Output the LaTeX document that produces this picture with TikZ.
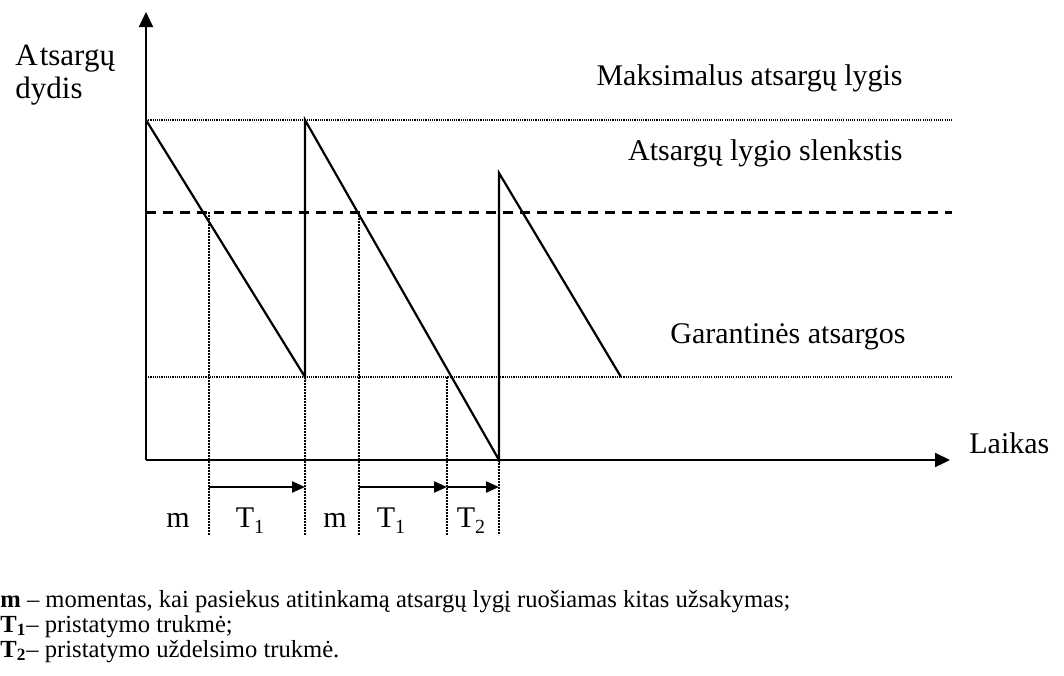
\documentclass[tikz,border=0pt]{standalone}
\usepackage{fontspec}
\setmainfont{Liberation Serif}
\usetikzlibrary{arrows.meta}
\newcommand{\lowsub}[1]{\raisebox{-0.45ex}{\fontsize{10}{10}\selectfont #1}}
\tikzset{
  axis/.style={line width=1.1pt,-{Triangle[length=7.5pt,width=7pt]}},
  saw/.style={line width=1.1pt,line join=miter},
  dotline/.style={line width=0.55pt,dash pattern=on 0.55pt off 0.55pt},
  vdot/.style={line width=0.8pt,dash pattern=on 0.8pt off 0.7pt},
  thresh/.style={line width=1.5pt,dash pattern=on 5pt off 3.5pt},
  span/.style={line width=1.1pt,-{Triangle[length=6.5pt,width=5.5pt]}},
  lbl/.style={font=\fontsize{15}{17}\selectfont,inner sep=0pt},
  leg/.style={font=\fontsize{12.3}{14}\selectfont,inner sep=0pt,anchor=base west},
}
\begin{document}
\begin{tikzpicture}[x=0.5pt,y=-0.5pt]
\useasboundingbox (0,0) rectangle (1064,675);
% coordinates
\coordinate (O) at (146,460);
\coordinate (Ytop) at (146,12);
\coordinate (Xend) at (950,460);
\coordinate (maxL) at (146,120);
\coordinate (maxR) at (952,120);
\coordinate (thL) at (146,212);
\coordinate (thR) at (952,212);
\coordinate (ssL) at (146,377);
\coordinate (ssR) at (952,377);
\coordinate (p1) at (146,120);
\coordinate (b1) at (305,377);
\coordinate (p2) at (305,120);
\coordinate (b2) at (499,460);
\coordinate (p3) at (499,173);
\coordinate (e3) at (621,377);
% vertical dotted markers
\coordinate (v1t) at (209,212); \coordinate (v1b) at (209,535);
\coordinate (v2t) at (305,377); \coordinate (v2b) at (305,535);
\coordinate (v3t) at (359,212); \coordinate (v3b) at (359,535);
\coordinate (v4t) at (447,377); \coordinate (v4b) at (447,535);
\coordinate (v5t) at (499,460); \coordinate (v5b) at (499,535);
% level lines
\draw[dotline] (maxL) -- (maxR);
\draw[dotline] (ssL) -- (ssR);
\draw[thresh] (thL) -- (thR);
% verticals
\draw[vdot] (v1t) -- (v1b);
\draw[vdot] (v2t) -- (v2b);
\draw[vdot] (v3t) -- (v3b);
\draw[vdot] (v4t) -- (v4b);
\draw[vdot] (v5t) -- (v5b);
% sawtooth
\draw[saw] (p1) -- (b1) -- (p2) -- (b2) -- (p3) -- (e3);
% axes
\draw[axis] (O) -- (Ytop);
\draw[axis] (O) -- (Xend);
% span arrows
\coordinate (a1) at (209,487); \coordinate (a2) at (305,487);
\coordinate (a3) at (359,487); \coordinate (a4) at (447,487);
\coordinate (a5) at (499,487);
\draw[span] (a1) -- (a2);
\draw[span] (a3) -- (a4);
\draw[span] (a4) -- (a5);
% labels
\node[lbl,anchor=base west,font=\fontsize{15.5}{17}\selectfont] (yl1) at (15,65) {A\kern1pt tsargų};
\node[lbl,anchor=base west,font=\fontsize{15.5}{17}\selectfont] (yl2) at (15,98) {dydis};
\node[lbl,anchor=base east] (tmax) at (903,85) {Maksimalus atsargų lygis};
\node[lbl,anchor=base east] (tth) at (903,160) {Atsargų lygio slenkstis};
\node[lbl,anchor=base east] (tss) at (906,343) {Garantinės atsargos};
\node[lbl,anchor=base west] (xl) at (969,453) {Laikas};
\node[lbl,anchor=base] (m1) at (178,527) {m};
\node[lbl,anchor=base] (t1) at (250,527) {T\lowsub{1}};
\node[lbl,anchor=base] (m2) at (335,527) {m};
\node[lbl,anchor=base] (t1b) at (391,527) {T\lowsub{1}};
\node[lbl,anchor=base] (t2) at (471,527) {T\lowsub{2}};
% legend
\node[leg] (L1) at (0,607) {\textbf{m} – momentas, kai pasiekus atitinkamą atsargų lygį ruošiamas kitas užsakymas;};
\node[leg] (L2) at (0,632) {\textbf{T\textsubscript{1}}– pristatymo trukmė;};
\node[leg] (L3) at (0,657) {\textbf{T\textsubscript{2}}– pristatymo uždelsimo trukmė.};
\end{tikzpicture}
\end{document}
